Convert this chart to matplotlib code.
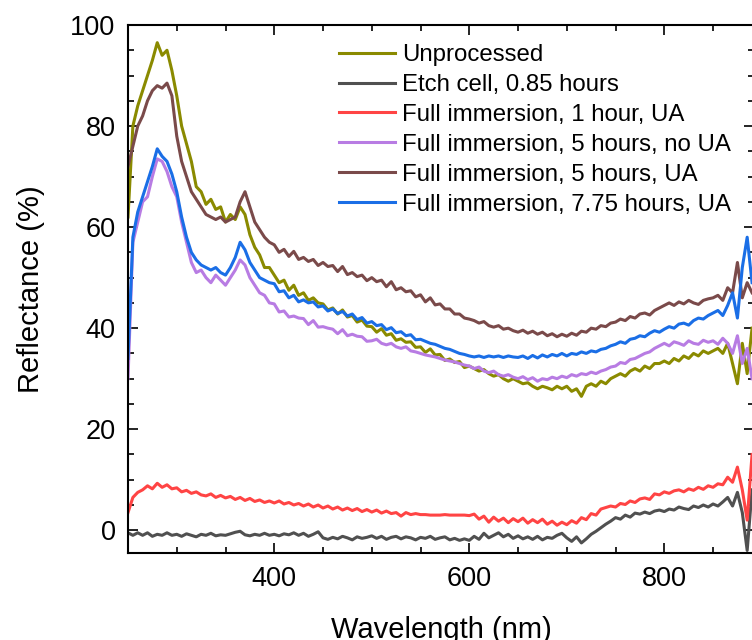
import numpy as np
import matplotlib
matplotlib.use('Agg')
import matplotlib.pyplot as plt
from matplotlib.ticker import MultipleLocator

plt.rcParams['font.family'] = ['Liberation Sans', 'DejaVu Sans']

# wavelength grid (nm), 5 nm steps
wl = np.arange(250, 891, 5)

labels = ['Unprocessed', 'Etch cell, 0.85 hours', 'Full immersion, 1 hour, UA',
          'Full immersion, 5 hours, no UA', 'Full immersion, 5 hours, UA',
          'Full immersion, 7.75 hours, UA']
colors = ['#8a8a00', '#505050', '#ff4444', '#b87ce3', '#7a4a4a', '#1a6ee6']

unprocessed = [
    62, 80, 84, 87, 90, 93, 96.5, 94, 95, 91,
    86, 80, 76.5, 73, 68, 67, 64.5, 65.5, 63.5, 64,
    61, 62.5, 61.5, 64, 62.5, 58.5, 56, 54.5, 52, 52,
    50.5, 49, 49.5, 47.5, 48.5, 46.5, 47, 45.5, 46, 45,
    44.8, 43.6, 44, 42.8, 43.6, 42.2, 42.5, 41.2, 41.6, 40.4,
    40.3, 39.2, 39.9, 38.6, 38.9, 37.6, 37.9, 37.2, 37.3, 36.2,
    36.3, 35.2, 35.9, 34.7, 34.8, 33.6, 33.9, 33.2, 33.4, 32.2,
    32.5, 32, 31.5, 31.8, 31, 30.5, 30.8, 30, 29.5, 30,
    29.5, 29, 29.2, 28.5, 28, 28.5, 28.2, 27.8, 28.5, 28,
    28.5, 27.5, 28, 26.5, 28.5, 29, 28.5, 29.5, 29, 30,
    30.5, 31, 30.5, 31.5, 32, 31.5, 32.5, 32, 33, 33,
    33.5, 33, 34, 33.5, 34.5, 34, 35, 34.5, 35.5, 35,
    35.5, 36, 35, 37, 33, 29, 37, 31, 40,
]

etch_cell = [
    -0.5, -1, -0.5, -1, -0.5, -1.2, -0.8, -1, -0.5, -1,
    -0.8, -1.2, -0.7, -1, -1.3, -0.8, -1, -0.6, -1.1, -0.9,
    -1, -0.7, -0.4, -0.2, -0.9, -1.1, -0.8, -1, -0.6, -1,
    -0.8, -1.1, -0.7, -0.9, -0.5, -1, -0.6, -1.2, -0.8, -0.3,
    -1.5, -1.8, -1.4, -1.7, -1.2, -1.5, -1.9, -1.3, -1.6, -1.4,
    -1.1, -1.6, -1.2, -1.8, -1.4, -1.2, -1.7, -1.3, -1.5, -1.9,
    -1.4, -1.6, -1.2, -1.8, -1.5, -1.3, -1.9, -1.6, -2, -1.7,
    -2, -1.2, -1.8, -0.6, -1.5, -1, -0.5, -1.3, -0.8, -1.6,
    -1.1, -1.7, -1.3, -1.8, -1.2, -1.9, -1.4, -1.6, -1, -0.6,
    -1.5, -2.2, -1.3, -2.5, -1.7, -0.8, -0.2, 0.5, 1.2, 1.8,
    2.5, 2.2, 3, 2.6, 3.4, 3.2, 3.6, 3.3, 3.8, 4,
    3.7, 4.2, 4, 4.6, 4.3, 4.1, 4.8, 4.5, 5, 4.6,
    5.2, 4.8, 5.6, 6.5, 4.8, 7.5, 3.5, -4, 8,
]

fi_1h_ua = [
    3.5, 6.5, 7.5, 8, 8.8, 8.2, 9.3, 8.5, 9, 8.2,
    8.4, 7.6, 7.9, 7.3, 7.6, 7, 6.8, 7.2, 6.5, 6.9,
    6.4, 6.7, 6.1, 6.5, 5.9, 6.3, 5.7, 6, 5.5, 5.8,
    5.4, 5.8, 5.2, 5.5, 5, 5.3, 4.8, 5.2, 4.6, 5,
    4.4, 4.8, 4.2, 4.6, 4, 4.4, 3.9, 4.3, 3.7, 4.1,
    3.6, 4, 3.4, 3.8, 3.3, 3.5, 2.8, 3.5, 3.1, 3.3,
    3.1, 3.1, 3.0, 3.0, 3.0, 3.1, 3.0, 3.0, 3.0, 3.0,
    2.9, 3.2, 2.2, 2.8, 1.6, 2.6, 1.8, 2.4, 1.5, 2.3,
    1.7, 2.4, 1.4, 2.1, 1.5, 2.2, 1.2, 1.8, 1.0, 1.6,
    1.1, 1.9, 1.4, 2.5, 2.1, 3.3, 3.0, 4.2, 4.5, 4.8,
    4.6, 5.3, 5.1, 5.8, 5.5, 6.2, 6.4, 6.1, 7.2, 7,
    7.6, 7.3, 7.8, 8, 7.6, 8.2, 7.9, 8.5, 8.1, 8.8,
    8.5, 9.2, 9, 10.5, 9.5, 12.5, 8, 2, 15,
]

fi_5h_noua = [
    30, 57, 61, 65, 66, 70, 73.5, 73, 71, 68,
    66, 61, 57, 53, 51, 51.5, 50, 49, 50.5, 49.5,
    48.5, 50, 51.5, 53.5, 52.5, 50, 48.5, 47, 46.5, 45,
    44.8, 43.2, 43.4, 42.2, 42.4, 42, 41.9, 40.7, 41.5, 40.2,
    40.3, 40, 39.8, 38.9, 39.7, 38.5, 38.8, 38.4, 38.3, 37.4,
    37.5, 37.8, 37, 36.7, 37, 36.3, 36, 36.3, 35.5, 35.3,
    35, 34.7, 34.5, 34.3, 34, 33.7, 33.5, 33.3, 33, 32.7,
    32.5, 32, 32.3, 31.5, 31.2, 31.5, 30.8, 30.5, 30.8, 30.3,
    30, 30.4, 29.8, 30.2, 29.5, 30, 29.8, 30.3, 30, 30.5,
    30.2, 30.8, 30.5, 31, 30.8, 31.3, 31, 31.5, 31.8, 32.3,
    32.5, 33.2, 33, 33.8, 34, 34.5, 35, 35.3, 36, 36.5,
    37, 36.5, 37.3, 37, 36.6, 37.5, 37, 36.8, 37.6, 37.2,
    37.5, 36.8, 38, 37, 35, 38.5, 33, 36, 30,
]

fi_5h_ua = [
    72, 76, 80, 82, 85, 87, 88, 87.5, 88.5, 86,
    78, 73, 70, 67, 65.5, 64, 62.5, 62, 61.5, 62,
    61, 61.5, 62, 65, 67, 64, 61, 59.5, 58, 57,
    56.5, 55, 55.6, 54.2, 55.2, 53.6, 54, 53.2, 53.6, 52.4,
    53, 52.2, 52.4, 51.2, 52.2, 50.6, 51, 50.2, 50.5, 49.4,
    50, 49.2, 49.5, 48.2, 49.2, 47.6, 48, 47.2, 47.4, 46.2,
    46.6, 45.2, 46, 44.6, 44.8, 43.8, 43.8, 42.8, 42.8, 42,
    41.8, 41.5, 41, 41.3, 40.5, 40.2, 40.5, 39.8, 40, 39.5,
    39.2, 39.6, 39, 39.4, 38.8, 39.2, 38.5, 38.9, 38.3, 38.8,
    38.4, 39, 38.6, 39.4, 39.2, 40, 39.8, 40.5, 40.3, 41,
    41.2, 41.8, 41.5, 42.3, 42, 42.8, 43, 42.6, 43.5, 44,
    44.5, 45, 44.5, 45.2, 44.8, 45.5, 45, 44.7, 45.5, 45.8,
    46, 46.5, 45.5, 48, 47, 53, 46, 49, 47,
]

fi_775h_ua = [
    34, 58, 63, 66, 69, 72, 75.5, 74, 73, 70.5,
    67, 62, 58, 55, 53.5, 52.5, 52, 51.5, 52, 51,
    50.5, 52, 54, 57, 55.5, 53, 51.5, 50, 49.5, 49,
    48.8, 47.2, 47.4, 46, 46.5, 45.2, 45.6, 45, 45.2, 44.2,
    44.4, 43.4, 43.8, 42.9, 43.3, 42.4, 42.8, 41.7, 42.1, 41,
    41.3, 40.5, 40.7, 39.7, 40.1, 39.1, 39.3, 38.5, 38.7, 37.7,
    37.8, 37.4, 37, 36.8, 36.4, 36, 35.8, 35.4, 35, 34.8,
    34.5, 34.3, 34.5, 34.2, 34.5, 34.3, 34.5, 34.2, 34.5, 34.3,
    34.2, 34.5, 34, 34.6, 34.1, 34.7, 34.3, 34.8, 34.5, 35,
    34.5, 35, 34.8, 35.3, 35, 35.5, 35.3, 35.8, 36, 36.5,
    36.8, 37.3, 37, 37.8, 38, 38.5, 38.3, 39, 39.5, 39.2,
    39.8, 40.3, 40, 40.8, 41, 40.6, 41.5, 42, 41.8, 42.5,
    43, 43.5, 42.5, 44.5, 47, 42, 52, 58, 49,
]

series = [unprocessed, etch_cell, fi_1h_ua, fi_5h_noua, fi_5h_ua, fi_775h_ua]

fig = plt.figure(figsize=(7.52, 6.4), dpi=100)
ax = fig.add_axes([128 / 752, 87 / 640, 626 / 752, 528 / 640])

for y, c, lab in zip(series, colors, labels):
    ax.plot(wl, y, color=c, lw=2.2, label=lab)

ax.set_xlim(250, 892)
ax.set_ylim(-4.5, 100)
ax.xaxis.set_major_locator(MultipleLocator(200))
ax.xaxis.set_minor_locator(MultipleLocator(50))
ax.yaxis.set_major_locator(MultipleLocator(20))
ax.yaxis.set_minor_locator(MultipleLocator(5))
ax.tick_params(which='both', direction='in', top=True, right=True, width=1.2)
ax.tick_params(which='major', length=7, labelsize=19.5, pad=9)
ax.tick_params(which='minor', length=4)
for s in ax.spines.values():
    s.set_linewidth(1.5)

ax.set_xlabel('Wavelength (nm)', fontsize=21, labelpad=18)
ax.set_ylabel('Reflectance (%)', fontsize=21, labelpad=18)

ax.legend(loc='upper left', bbox_to_anchor=(339 / 752, 1 - 44 / 640),
          bbox_transform=fig.transFigure, frameon=False, fontsize=17.3,
          handlelength=2.33, handletextpad=0.29, labelspacing=0.33,
          borderpad=0, borderaxespad=0)

fig.savefig('out.png', dpi=100)
